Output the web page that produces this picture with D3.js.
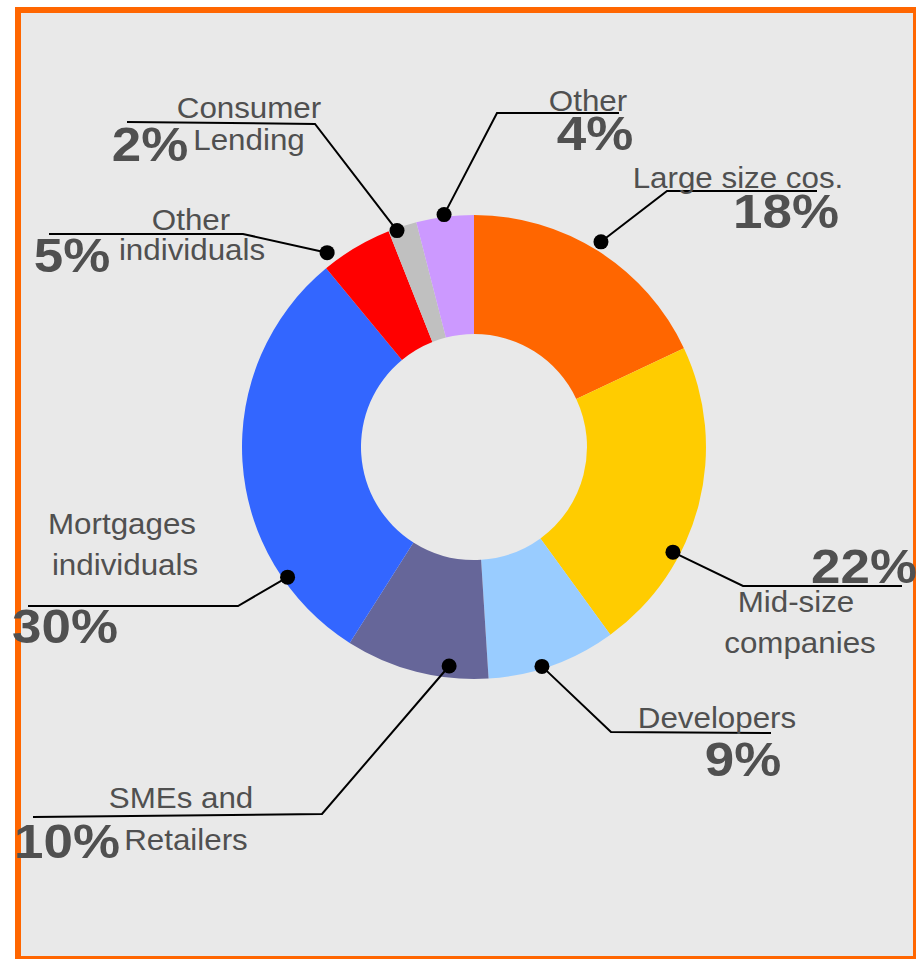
<!DOCTYPE html>
<html>
<head>
<meta charset="utf-8">
<script src="https://cdn.jsdelivr.net/npm/d3@7"></script>
<style>
  html, body { margin: 0; padding: 0; background: #ffffff; }
  svg { display: block; }
</style>
</head>
<body>
<svg id="chart" width="916" height="959"></svg>
<script>
// Loan book breakdown by segment (share of total, %)
const categories = [
  "Large size cos.", "Mid-size companies", "Developers", "SMEs and Retailers",
  "Mortgages individuals", "Other individuals", "Consumer Lending", "Other"
];
const shares = [18, 22, 9, 10, 30, 5, 2, 4];
const nameLines = [
  ["Large size cos."], ["Mid-size", "companies"], ["Developers"], ["SMEs and", "Retailers"],
  ["Mortgages", "individuals"], ["Other", "individuals"], ["Consumer", "Lending"], ["Other"]
];
const sliceColors = ["#ff6600", "#ffcc00", "#99ccff", "#666699", "#3366ff", "#ff0000", "#c0c0c0", "#cc99ff"];

// Callout placement: anchor position inside each slice (fraction of its sweep, radius factor),
// leader-line elbow/end points, and label text positions.
const callouts = [
  { at: 0.49, rf: 1.04, elbow: [667, 191], end: [817, 191], names: [[738, 188]], pct: [786, 228] },
  { at: 0.67, rf: 0.97, elbow: [743, 586], end: [902, 586], names: [[796, 612], [800, 653]], pct: [864, 583] },
  { at: 0.58, rf: 0.99, elbow: [611, 732], end: [771, 733], names: [[717, 728]], pct: [743, 776] },
  { at: 0.28, rf: 0.95, elbow: [322, 814], end: [33, 817], names: [[181, 808], [186, 850]], pct: [67, 858] },
  { at: 0.21, rf: 0.98, elbow: [238, 606], end: [28, 606], names: [[122, 534], [125, 575]], pct: [65, 643] },
  { at: 0.14, rf: 1.05, elbow: [243, 234], end: [49, 234], names: [[191, 230], [192, 260]], pct: [72, 272] },
  { at: 0.28, rf: 0.99, elbow: [315, 124], end: [127, 122], names: [[249, 118], [249, 150]], pct: [150, 161] },
  { at: 0.49, rf: 1.01, elbow: [497, 113], end: [619, 113], names: [[588, 111]], pct: [595, 150] }
];

const cx = 474, cy = 447, outerR = 232, innerR = 113;
const textColor = "#505050";
const stretch = 1.08;

const svg = d3.select("#chart");

// panel with orange frame
svg.append("rect")
  .attr("x", 18).attr("y", 10)
  .attr("width", 898).attr("height", 949)
  .attr("fill", "#e9e9e9")
  .attr("stroke", "#ff6600")
  .attr("stroke-width", 6);

const pie = d3.pie().sort(null).value(d => d)(shares);
const arc = d3.arc().innerRadius(innerR).outerRadius(outerR);

const g = svg.append("g").attr("transform", `translate(${cx},${cy})`);
g.selectAll("path.slice")
  .data(pie)
  .join("path")
  .attr("class", "slice")
  .attr("d", arc)
  .attr("fill", (d, i) => sliceColors[i]);

// anchor points on the ring
const anchors = pie.map((d, i) => {
  const c = callouts[i];
  const a = d.startAngle + c.at * (d.endAngle - d.startAngle);
  const r = outerR * c.rf;
  return [cx + r * Math.sin(a), cy - r * Math.cos(a)];
});

const lineGen = d3.line();
svg.selectAll("path.leader")
  .data(callouts)
  .join("path")
  .attr("class", "leader")
  .attr("d", (c, i) => lineGen([anchors[i], c.elbow, c.end]))
  .attr("fill", "none")
  .attr("stroke", "#000")
  .attr("stroke-width", 2);

svg.selectAll("circle.anchor")
  .data(anchors)
  .join("circle")
  .attr("class", "anchor")
  .attr("cx", d => d[0])
  .attr("cy", d => d[1])
  .attr("r", 7.5)
  .attr("fill", "#000");

const labels = svg.append("g")
  .attr("font-family", "'Liberation Sans', Arial, sans-serif")
  .attr("fill", textColor)
  .attr("text-anchor", "middle");

callouts.forEach((c, i) => {
  nameLines[i].forEach((line, j) => {
    labels.append("text")
      .attr("transform", `translate(${c.names[j][0]},${c.names[j][1]}) scale(${stretch},1)`)
      .attr("font-size", 29)
      .text(line);
  });
  labels.append("text")
    .attr("transform", `translate(${c.pct[0]},${c.pct[1]}) scale(${stretch},1)`)
    .attr("font-size", 49)
    .attr("font-weight", "bold")
    .text(shares[i] + "%");
});
</script>
</body>
</html>
